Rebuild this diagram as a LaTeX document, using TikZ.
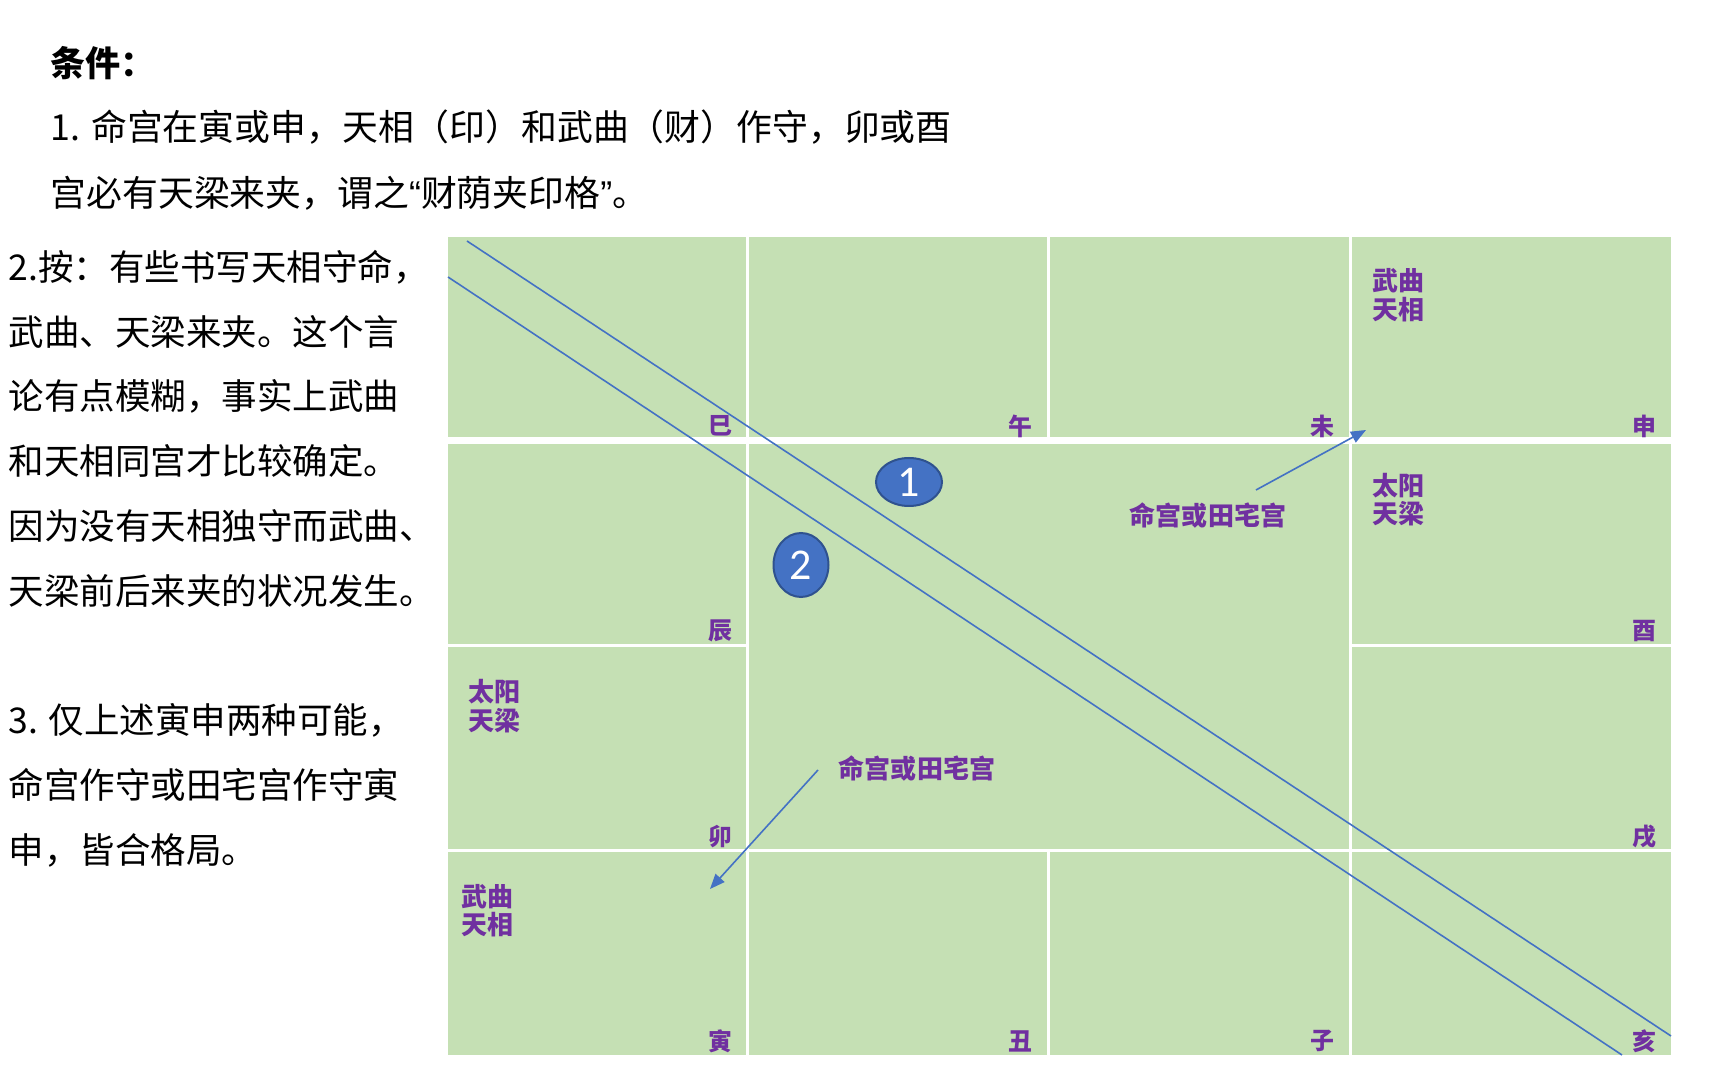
\documentclass[tikz,border=0pt]{standalone}
\usepackage{fontspec}
\setmainfont{Noto Sans CJK SC}
\newfontfamily\digitfont{Carlito}
\newfontfamily\quotefont{Liberation Sans}
\usetikzlibrary{shapes.geometric}
\usetikzlibrary{arrows.meta}
\pgfdeclarelayer{bglayer}
\pgfdeclarelayer{edgelayer}
\pgfdeclarelayer{nodelayer}
\pgfsetlayers{bglayer,edgelayer,nodelayer,main}
\definecolor{cellgreen}{HTML}{C5E0B4}
\definecolor{labelpurple}{HTML}{7030A0}
\definecolor{accentblue}{HTML}{4472C4}
\definecolor{rimblue}{HTML}{2F528F}
\tikzstyle{none}=[inner sep=0pt]
\tikzstyle{toptext}=[inner sep=0pt, anchor=west, font=\fontsize{10.2pt}{11pt}\selectfont]
\tikzstyle{headtext}=[toptext, font=\fontsize{10pt}{11pt}\selectfont\bfseries]
\tikzstyle{sidetext}=[inner sep=0pt, anchor=west, font=\fontsize{10.1pt}{11pt}\selectfont]
\tikzstyle{branch}=[inner sep=0pt, text=labelpurple, font=\fontsize{6.8pt}{8pt}\selectfont\bfseries]
\tikzstyle{star}=[inner sep=0pt, anchor=west, align=left, text=labelpurple, font=\fontsize{7.4pt}{8.1pt}\selectfont\bfseries]
\tikzstyle{palace}=[inner sep=0pt, text=labelpurple, font=\fontsize{7.4pt}{9pt}\selectfont\bfseries]
\tikzstyle{marker}=[ellipse, fill=accentblue, draw=rimblue, line width=0.2mm, inner sep=0pt, text=white, font=\digitfont\fontsize{12.5pt}{14pt}\selectfont]
\tikzstyle{divider}=[draw=accentblue, line width=0.16mm]
\tikzstyle{pointer}=[-{Triangle[length=1.5mm,width=1.2mm]}, draw=accentblue, line width=0.16mm]
\tikzstyle{gap}=[draw=white, line width=0.3mm]
\tikzstyle{widegap}=[draw=white, line width=0.7mm]

\begin{document}
\begin{tikzpicture}
	\begin{pgfonlayer}{bglayer}
		\fill [white] (0, 0) rectangle (17.28, -10.8);
		\useasboundingbox (0, 0) rectangle (17.28, -10.8);
		\fill [cellgreen] (4.48, -2.37) rectangle (16.71, -10.55);
		\draw [style=widegap] (4.48, -4.41) to (16.71, -4.41);
		\draw [style=gap] (4.48, -6.46) to (7.47, -6.46);
		\draw [style=gap] (13.5, -6.46) to (16.71, -6.46);
		\draw [style=gap] (4.48, -8.51) to (16.71, -8.51);
		\draw [style=gap] (7.47, -2.37) to (7.47, -10.55);
		\draw [style=gap] (10.48, -2.37) to (10.48, -4.41);
		\draw [style=gap] (10.48, -8.51) to (10.48, -10.55);
		\draw [style=gap] (13.5, -2.37) to (13.5, -10.55);
	\end{pgfonlayer}
	\begin{pgfonlayer}{nodelayer}
		\node [style=headtext] (0) at (0.5, -0.63) {条件：};
		\node [style=toptext] (1) at (0.5, -1.27) {1. 命宫在寅或申，天相（印）和武曲（财）作守，卯或酉};
		\node [style=toptext] (2) at (0.5, -1.93) {宫必有天梁来夹，谓之{\quotefont “}财荫夹印格{\quotefont ”}。};
		\node [style=sidetext] (3) at (0.08, -2.67) {2.按：有些书写天相守命，};
		\node [style=sidetext] (4) at (0.08, -3.32) {武曲、天梁来夹。这个言};
		\node [style=sidetext] (5) at (0.08, -3.96) {论有点模糊，事实上武曲};
		\node [style=sidetext] (6) at (0.08, -4.61) {和天相同宫才比较确定。};
		\node [style=sidetext] (7) at (0.08, -5.26) {因为没有天相独守而武曲、};
		\node [style=sidetext] (8) at (0.08, -5.91) {天梁前后来夹的状况发生。};
		\node [style=sidetext] (9) at (0.08, -7.2) {3. 仅上述寅申两种可能，};
		\node [style=sidetext] (10) at (0.08, -7.85) {命宫作守或田宅宫作守寅};
		\node [style=sidetext] (11) at (0.08, -8.5) {申，皆合格局。};
		\node [style=branch] (12) at (7.2, -4.26) {巳};
		\node [style=branch] (13) at (10.2, -4.26) {午};
		\node [style=branch] (14) at (13.22, -4.26) {未};
		\node [style=branch] (15) at (16.44, -4.26) {申};
		\node [style=branch] (16) at (7.2, -6.31) {辰};
		\node [style=branch] (17) at (16.44, -6.31) {酉};
		\node [style=branch] (18) at (7.2, -8.37) {卯};
		\node [style=branch] (19) at (16.44, -8.37) {戌};
		\node [style=branch] (20) at (7.2, -10.41) {寅};
		\node [style=branch] (21) at (10.2, -10.41) {丑};
		\node [style=branch] (22) at (13.22, -10.41) {子};
		\node [style=branch] (23) at (16.44, -10.41) {亥};
		\node [style=star] (24) at (13.72, -2.954) {武曲\\天相};
		\node [style=star] (25) at (13.72, -4.998) {太阳\\天梁};
		\node [style=star] (26) at (4.68, -7.059) {太阳\\天梁};
		\node [style=star] (27) at (4.61, -9.109) {武曲\\天相};
		\node [style=palace] (28) at (12.08, -5.16) {命宫或田宅宫};
		\node [style=palace] (29) at (9.17, -7.69) {命宫或田宅宫};
		\node [style=marker, minimum width=0.66cm, minimum height=0.48cm] (30) at (9.09, -4.82) {1};
		\node [style=marker, minimum width=0.55cm, minimum height=0.64cm] (31) at (8.01, -5.65) {2};
		\node [style=none] (32) at (4.67, -2.41) {};
		\node [style=none] (33) at (16.71, -10.36) {};
		\node [style=none] (34) at (4.48, -2.77) {};
		\node [style=none] (35) at (16.22, -10.55) {};
		\node [style=none] (36) at (12.56, -4.9) {};
		\node [style=none] (37) at (13.66, -4.3) {};
		\node [style=none] (38) at (8.18, -7.7) {};
		\node [style=none] (39) at (7.1, -8.89) {};
	\end{pgfonlayer}
	\begin{pgfonlayer}{edgelayer}
		\draw [style=divider] (32.center) to (33.center);
		\draw [style=divider] (34.center) to (35.center);
		\draw [style=pointer] (36.center) to (37.center);
		\draw [style=pointer] (38.center) to (39.center);
	\end{pgfonlayer}
\end{tikzpicture}
\end{document}
